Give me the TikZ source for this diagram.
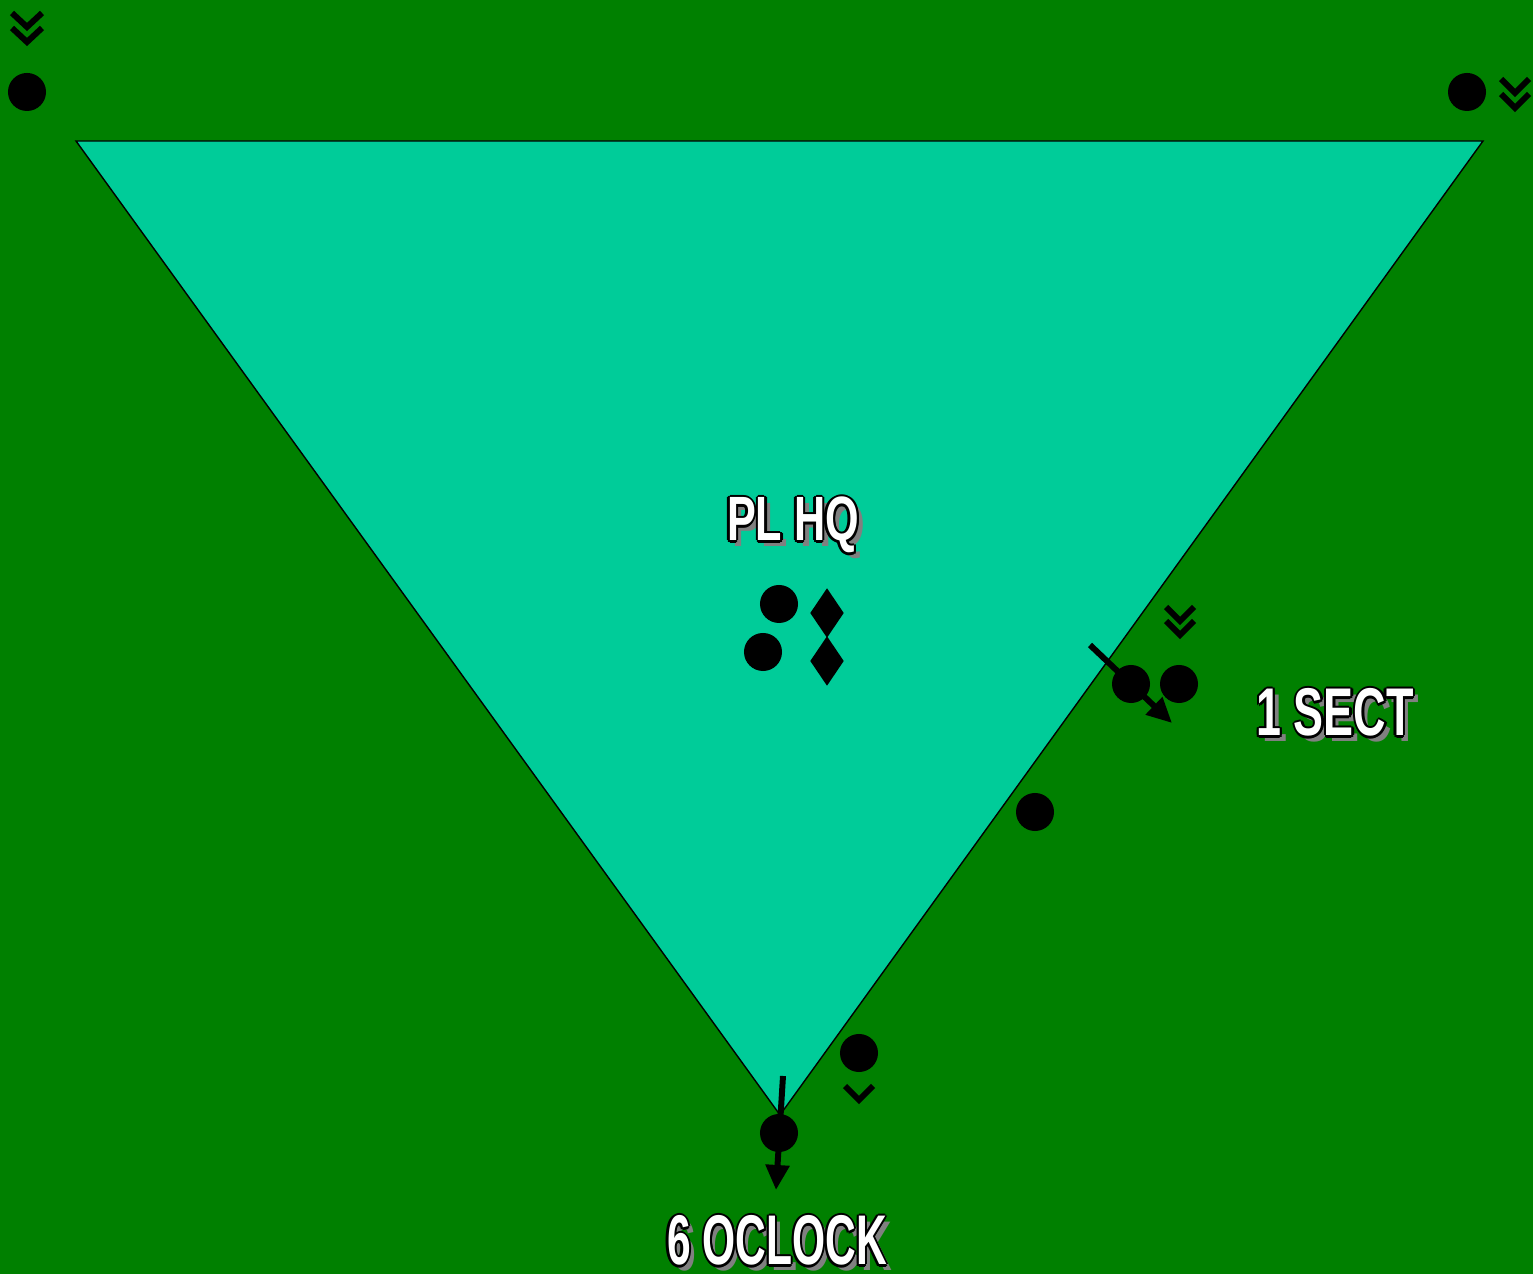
\documentclass[tikz,border=0pt]{standalone}
\usepackage{fontspec}
\setmainfont{Liberation Sans}
\usepackage{tikz}
\usetikzlibrary{arrows.meta,shapes.geometric}

\definecolor{fieldgreen}{RGB}{0,128,0}
\definecolor{zonegreen}{RGB}{0,204,153}
\definecolor{shadowgrey}{RGB}{128,128,128}

% white letters, black edge, grey drop shadow
\newcommand{\maplabel}[1]{%
  \leavevmode
  \rlap{\hspace{2.4pt}\raisebox{-1.5pt}{\color{shadowgrey}#1}}%
  \rlap{\hspace{-1pt}\color{black}#1}%
  \rlap{\hspace{1pt}\color{black}#1}%
  \rlap{\raisebox{0.7pt}{\color{black}#1}}%
  \rlap{\raisebox{-0.7pt}{\color{black}#1}}%
  \rlap{\hspace{0.7pt}\raisebox{0.5pt}{\color{black}#1}}%
  \rlap{\hspace{-0.7pt}\raisebox{0.5pt}{\color{black}#1}}%
  \rlap{\hspace{0.7pt}\raisebox{-0.5pt}{\color{black}#1}}%
  \rlap{\hspace{-0.7pt}\raisebox{-0.5pt}{\color{black}#1}}%
  {\color{white}#1}}

\begin{document}
\begin{tikzpicture}[x=0.01cm, y=-0.01cm,
    dot/.style={circle, fill=black, inner sep=0pt, minimum size=0.38cm},
    hq/.style={diamond, fill=black, inner sep=0pt, minimum width=0.34cm, minimum height=0.5cm},
    chev/.style={line width=1.7pt, miter limit=10},
    mvarrow/.style={line width=1.7pt, -{Triangle[length=0.25cm, width=0.23cm]}},
    lbl/.style={anchor=base, inner sep=0pt, font=\bfseries}]
    % ground
    \useasboundingbox (0,0) rectangle (1533,1274);
    \fill[fieldgreen] (0,0) rectangle (1533,1274);

    % platoon area
    \draw[thin, fill=zonegreen] (76,141) -- (1483,141) -- (780,1115) -- cycle;

    % men at the top corners
    \node[dot] (topleft) at (27,92) {};
    \node[dot] (topright) at (1467,92) {};
    \draw[chev] (12,13) -- (27,27) -- (42,13);
    \draw[chev] (12,28) -- (27,42) -- (42,28);
    \draw[chev] (1501,79) -- (1515,93) -- (1529,79);
    \draw[chev] (1501,94) -- (1515,108) -- (1529,94);

    % PL HQ
    \node[lbl, xscale=0.69] (plhq) at (793,541) {\fontsize{17.8}{18}\selectfont\maplabel{PL HQ}};
    \node[dot] (hqa) at (779,604) {};
    \node[dot] (hqb) at (763,652) {};
    \node[hq] (hqc) at (827,613) {};
    \node[hq] (hqd) at (827,661) {};

    % 1 SECT
    \node[dot] (secta) at (1131,684) {};
    \node[dot] (sectb) at (1179,684) {};
    \draw[chev] (1166,607) -- (1180,621) -- (1194,607);
    \draw[chev] (1166,621) -- (1180,635) -- (1194,621);
    \coordinate (secttail) at (1090,645);
    \coordinate (secthead) at (1172,723);
    \draw[mvarrow] (secttail) -- (secthead);
    \node[lbl, xscale=0.665] (sect) at (1335,736) {\fontsize{19.2}{20}\selectfont\maplabel{1 SECT}};

    \node[dot] (edge) at (1035,812) {};

    % 6 OCLOCK
    \node[dot] (rear) at (859,1053) {};
    \draw[chev] (845,1086) -- (859,1100) -- (873,1086);
    \node[dot] (apex) at (779,1133) {};
    \coordinate (reartail) at (783,1076);
    \coordinate (rearhead) at (776,1190);
    \draw[mvarrow] (reartail) -- (rearhead);
    \node[lbl, xscale=0.605] (sixoclock) at (777,1265) {\fontsize{20}{21}\selectfont\maplabel{6 OCLOCK}};
\end{tikzpicture}
\end{document}
